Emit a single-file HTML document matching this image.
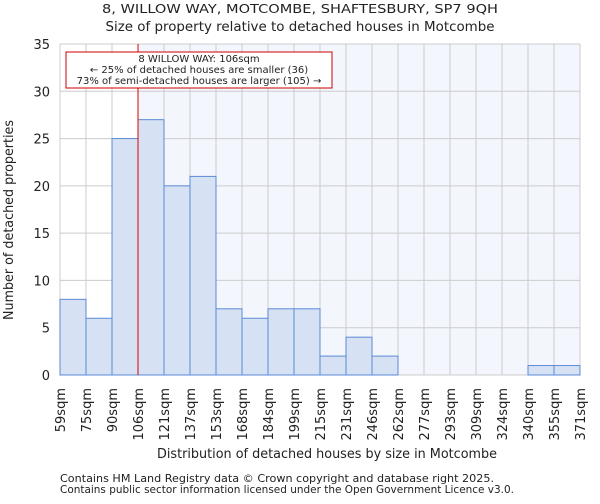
<!DOCTYPE html>
<html><head><meta charset="utf-8"><style>
body{margin:0;background:#fff;font-family:"DejaVu Sans","Liberation Sans",sans-serif;}
svg text{font-family:"DejaVu Sans","Liberation Sans",sans-serif;fill:#222;}
</style></head><body>
<svg id="c" width="600" height="500">
<text x="300" y="13" text-anchor="middle" font-size="12.5" textLength="396" lengthAdjust="spacingAndGlyphs">8, WILLOW WAY, MOTCOMBE, SHAFTESBURY, SP7 9QH</text>
<text x="300" y="31" text-anchor="middle" font-size="13" textLength="389" lengthAdjust="spacingAndGlyphs">Size of property relative to detached houses in Motcombe</text>
<g id="plot"></g>
<text x="327" y="458" text-anchor="middle" font-size="13" textLength="340" lengthAdjust="spacingAndGlyphs">Distribution of detached houses by size in Motcombe</text>
<text transform="translate(13,220) rotate(-90)" text-anchor="middle" font-size="13" textLength="200" lengthAdjust="spacingAndGlyphs">Number of detached properties</text>
<text x="60" y="482" font-size="10.5" textLength="434" lengthAdjust="spacingAndGlyphs">Contains HM Land Registry data © Crown copyright and database right 2025.</text>
<text x="60" y="493" font-size="10.5" textLength="454" lengthAdjust="spacingAndGlyphs">Contains public sector information licensed under the Open Government Licence v3.0.</text>
</svg>
<script>
const categories=["59sqm","75sqm","90sqm","106sqm","121sqm","137sqm","153sqm","168sqm","184sqm","199sqm","215sqm","231sqm","246sqm","262sqm","277sqm","293sqm","309sqm","324sqm","340sqm","355sqm","371sqm"];
const counts=[8,6,25,27,20,21,7,6,7,7,2,4,2,0,0,0,0,0,1,1];
const yTicks=[0,5,10,15,20,25,30,35];
const markerIndex=3;
const L=60,R=580,T=44,B=375,yMax=35;
const n=counts.length;
const x=i=>L+(R-L)*i/n;
const y=v=>B-(B-T)*v/yMax;
const g=document.getElementById('plot');
const NS="http://www.w3.org/2000/svg";
function mk(t,a){const e=document.createElementNS(NS,t);for(const k in a)e.setAttribute(k,a[k]);g.appendChild(e);return e;}
let e=mk('rect',{x:x(markerIndex),y:T,width:R-x(markerIndex),height:B-T,fill:'#f3f6fd'});


for(let i=0;i<=n;i++){e=mk('line',{x1:x(i),x2:x(i),y1:T,y2:B,stroke:'#ccc','stroke-width':1});

}
yTicks.forEach(v=>{e=mk('line',{x1:L,x2:R,y1:y(v),y2:y(v),stroke:'#ccc','stroke-width':1});


const t=mk('text',{x:L-10,y:y(v)+5,'text-anchor':'end','font-size':13});t.textContent=v;

});
counts.forEach((c,i)=>{if(c<=0)return;e=mk('rect',{x:x(i),y:y(c),width:x(i+1)-x(i),height:B-y(c),fill:'#d6e1f3',stroke:'#5b8bd6','stroke-width':1});

});
categories.forEach((c,i)=>{const t=mk('text',{transform:`translate(${x(i)+5},388) rotate(-90)`,'text-anchor':'end','font-size':13});t.textContent=c;

});
e=mk('line',{x1:x(markerIndex),x2:x(markerIndex),y1:T,y2:B,stroke:'#d00','stroke-width':1});


e=mk('rect',{x:66,y:52,width:266,height:36,fill:'#fff',stroke:'#c00','stroke-width':1});


["8 WILLOW WAY: 106sqm","← 25% of detached houses are smaller (36)","73% of semi-detached houses are larger (105) →"].forEach((s,k)=>{const t=mk('text',{x:199,y:62+k*11,'text-anchor':'middle','font-size':10});t.textContent=s;

});
</script>
</body></html>
